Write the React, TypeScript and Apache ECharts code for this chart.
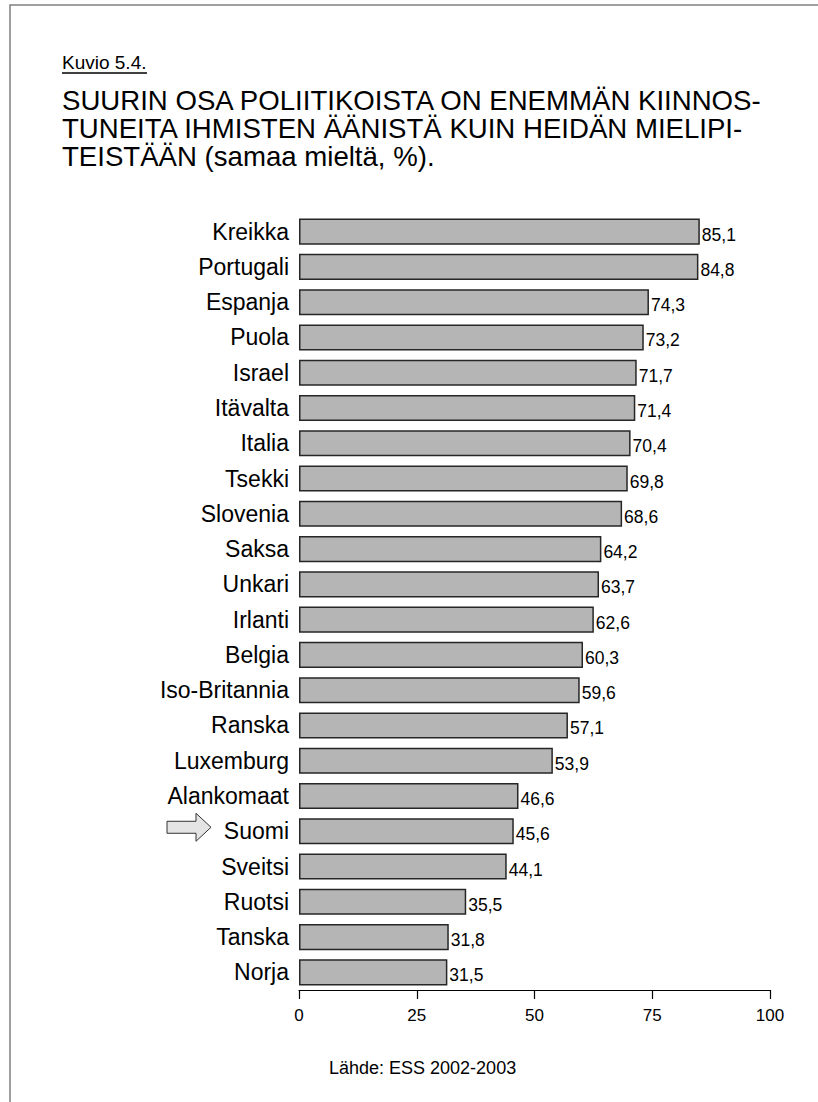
import React, { useEffect, useRef } from "react";
import * as echarts from "echarts";

const countries = [
  "Kreikka", "Portugali", "Espanja", "Puola", "Israel", "Itävalta", "Italia", "Tsekki",
  "Slovenia", "Saksa", "Unkari", "Irlanti", "Belgia", "Iso-Britannia", "Ranska",
  "Luxemburg", "Alankomaat", "Suomi", "Sveitsi", "Ruotsi", "Tanska", "Norja",
];
const values = [
  85.1, 84.8, 74.3, 73.2, 71.7, 71.4, 70.4, 69.8, 68.6, 64.2, 63.7, 62.6, 60.3, 59.6,
  57.1, 53.9, 46.6, 45.6, 44.1, 35.5, 31.8, 31.5,
];
const xTicks = [0, 25, 50, 75, 100];
const figureLabel = "Kuvio 5.4.";
const titleLines = [
  "SUURIN OSA POLIITIKOISTA ON ENEMMÄN KIINNOS-",
  "TUNEITA IHMISTEN ÄÄNISTÄ KUIN HEIDÄN MIELIPI-",
  "TEISTÄÄN (samaa mieltä, %).",
];
const sourceText = "Lähde: ESS 2002-2003";
const highlighted = "Suomi";

const FONT = "Arial, 'Liberation Sans', Helvetica, sans-serif";

export default function App() {
  const ref = useRef<HTMLDivElement>(null);
  useEffect(() => {
    if (!ref.current) return;
    const chart = echarts.init(ref.current, undefined, { renderer: "svg" });
    chart.setOption({
      animation: false,
      backgroundColor: "#ffffff",
      grid: { left: 299, right: 48, top: 214, bottom: 1102 - 990, containLabel: false },
      xAxis: {
        type: "value",
        min: xTicks[0],
        max: xTicks[xTicks.length - 1],
        interval: 25,
        axisLine: { show: true, lineStyle: { color: "#000", width: 1.2 } },
        axisTick: { show: true, length: 9, inside: false, lineStyle: { color: "#000", width: 1.2 } },
        splitLine: { show: false },
        axisLabel: { color: "#000", fontSize: 17, fontFamily: FONT, margin: 17 },
      },
      yAxis: {
        type: "category",
        data: countries,
        inverse: true,
        axisLine: { show: false },
        axisTick: { show: false },
        axisLabel: { color: "#000", fontSize: 23, fontFamily: FONT, margin: 10 },
      },
      series: [
        {
          type: "bar",
          data: values,
          barCategoryGap: "26%",
          itemStyle: { color: "#b5b5b5", borderColor: "#262626", borderWidth: 1.5 },
          label: {
            show: true,
            position: "right",
            distance: 2,
            offset: [0, 3],
            color: "#000",
            fontSize: 17.5,
            fontFamily: FONT,
            formatter: (p: any) => String(p.value.toFixed(1)).replace(".", ","),
          },
        },
      ],
    });

    const yPix = (chart.convertToPixel({ yAxisIndex: 0 }, highlighted) as number) - 4;
    const tipX = 211;
    const arrow = [
      [tipX - 44, yPix - 6],
      [tipX - 15, yPix - 6],
      [tipX - 15, yPix - 14],
      [tipX, yPix],
      [tipX - 15, yPix + 14],
      [tipX - 15, yPix + 6],
      [tipX - 44, yPix + 6],
    ];

    chart.setOption({
      graphic: [
        {
          type: "rect",
          shape: { x: 10, y: 5, width: 1000, height: 1200 },
          style: { fill: "none", stroke: "#808080", lineWidth: 1.5 },
          silent: true,
        },
        {
          type: "text",
          x: 62,
          y: 62,
          style: { text: figureLabel, fontSize: 19, fontFamily: FONT, fill: "#000", verticalAlign: "middle" },
        },
        {
          type: "line",
          shape: { x1: 62, y1: 73, x2: 147, y2: 73 },
          style: { stroke: "#000", lineWidth: 1.3 },
        },
        ...titleLines.map((t, i) => ({
          type: "text",
          x: 62,
          y: 100 + i * 28,
          style: { text: t, fontSize: 27.6, fontFamily: FONT, fill: "#000", verticalAlign: "middle" },
        })),
        {
          type: "polygon",
          shape: { points: arrow },
          style: { fill: "#e4e4e4", stroke: "#333", lineWidth: 1 },
        },
        {
          type: "text",
          x: 329,
          y: 1068,
          style: { text: sourceText, fontSize: 18, fontFamily: FONT, fill: "#000", verticalAlign: "middle" },
        },
      ],
    });

    return () => chart.dispose();
  }, []);
  return <div ref={ref} style={{ width: 818, height: 1102, position: "absolute", left: 0, top: 0 }} />;
}
